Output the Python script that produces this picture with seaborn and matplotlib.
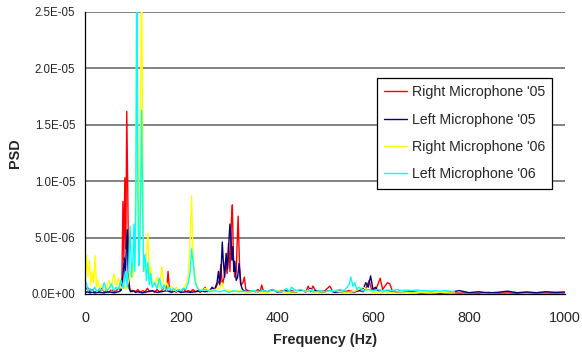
import numpy as np
import pandas as pd
import seaborn as sns
import matplotlib.pyplot as plt
import matplotlib.ticker as ticker

# PSD values are in units of 1e-6
r05_freq = [0, 5, 10, 15, 20, 25, 30, 35, 40, 45, 50, 55, 60, 65, 70, 74, 77, 79, 81, 83,
            85, 87, 89, 91, 94, 98, 102, 106, 110, 115, 120, 125, 130, 135, 140, 145, 150,
            155, 160, 165, 170, 173, 176, 180, 185, 190, 195, 200, 205, 210, 215, 220, 225,
            230, 235, 240, 245, 250, 255, 260, 265, 270, 275, 280, 283, 286, 290, 293, 296,
            299, 302, 305, 307, 309, 312, 315, 319, 322, 325, 329, 332, 335, 340, 345, 350,
            355, 360, 365, 368, 372, 380, 390, 400, 410, 420, 430, 440, 450, 460, 465, 470,
            475, 480, 490, 500, 510, 515, 520, 530, 540, 550, 560, 570, 580, 585, 592, 597,
            603, 608, 615, 620, 625, 630, 635, 640, 650, 660, 670, 680, 690, 700, 720, 740,
            760, 780, 800, 820, 840, 860, 880, 900, 920, 940, 960, 980, 1000]
r05_psd = [0.3, 0.6, 0.2, 0.4, 0.15, 0.3, 0.2, 0.5, 0.2, 0.3, 0.15, 0.4, 0.2, 0.3, 0.5, 0.3,
           1.5, 8.2, 3.0, 10.3, 4.0, 16.2, 9.5, 1.2, 0.4, 0.2, 0.3, 0.2, 0.4, 0.15, 0.3, 0.2,
           0.5, 0.2, 0.3, 0.15, 0.4, 0.2, 0.3, 0.6, 0.3, 2.0, 0.4, 0.2, 0.3, 0.15, 0.3, 0.2,
           0.5, 0.2, 0.3, 0.2, 0.4, 0.2, 0.3, 0.15, 0.3, 0.6, 0.2, 0.3, 0.5, 0.3, 0.8, 1.2,
           2.6, 0.8, 1.5, 3.0, 1.8, 4.5, 2.0, 6.5, 7.9, 3.5, 1.5, 2.0, 6.9, 2.5, 0.8, 1.0,
           1.5, 0.4, 0.3, 0.2, 0.3, 0.2, 0.4, 0.2, 0.8, 0.2, 0.2, 0.3, 0.2, 0.3, 0.2, 0.3,
           0.2, 0.3, 0.2, 0.7, 0.2, 0.7, 0.3, 0.2, 0.3, 0.7, 0.3, 0.2, 0.3, 0.2, 0.3, 0.2,
           0.3, 0.2, 0.5, 1.2, 0.4, 0.3, 0.6, 1.4, 0.4, 0.7, 1.0, 0.9, 0.3, 0.2, 0.3, 0.15,
           0.2, 0.15, 0.1, 0.12, 0.08, 0.1, 0.08, 0.1, 0.07, 0.15, 0.08, 0.1, 0.07, 0.12,
           0.08, 0.1, 0.08, 0.1]

l05_freq = [0, 5, 10, 15, 20, 30, 40, 50, 60, 70, 75, 78, 80, 82, 84, 86, 88, 90, 92, 95,
            100, 105, 110, 120, 130, 140, 150, 160, 170, 180, 190, 200, 210, 220, 230, 240,
            250, 260, 265, 270, 275, 278, 281, 284, 286, 288, 291, 294, 297, 300, 302, 304,
            306, 308, 310, 312, 315, 318, 321, 324, 327, 330, 340, 350, 360, 370, 380, 390,
            400, 410, 420, 430, 440, 450, 460, 470, 475, 480, 490, 500, 510, 520, 530, 540,
            550, 560, 570, 580, 585, 590, 595, 600, 605, 610, 620, 630, 640, 650, 660, 680,
            700, 720, 740, 760, 780, 800, 820, 840, 860, 880, 900, 920, 940, 960, 980, 1000]
l05_psd = [0.1, 0.2, 0.1, 0.15, 0.1, 0.15, 0.1, 0.2, 0.1, 0.2, 0.3, 1.0, 2.2, 3.2, 1.5,
           4.0, 5.7, 2.0, 0.5, 0.2, 0.3, 0.15, 0.2, 0.1, 0.2, 0.3, 0.15, 0.2, 0.3, 0.15,
           0.3, 0.15, 0.2, 0.15, 0.2, 0.3, 0.2, 0.3, 0.6, 0.4, 1.0, 2.0, 0.8, 2.5, 4.6, 3.0,
           1.5, 3.6, 2.2, 4.8, 6.2, 5.0, 3.0, 4.2, 2.0, 2.9, 1.2, 1.5, 2.7, 1.0, 0.5, 0.3,
           0.2, 0.3, 0.2, 0.3, 0.2, 0.4, 0.2, 0.2, 0.3, 0.15, 0.2, 0.3, 0.2, 0.5, 0.2, 0.3,
           0.15, 0.2, 0.3, 0.15, 0.2, 0.15, 0.2, 0.15, 0.3, 0.5, 1.0, 0.6, 1.6, 0.4, 0.6,
           0.3, 0.2, 0.3, 0.2, 0.15, 0.2, 0.15, 0.12, 0.15, 0.1, 0.15, 0.3, 0.12, 0.2, 0.1,
           0.15, 0.25, 0.12, 0.18, 0.12, 0.2, 0.15, 0.18]

r06_freq = [0, 3, 6, 9, 12, 15, 18, 21, 24, 27, 30, 35, 40, 45, 50, 55, 60, 65, 70, 75, 80,
            85, 90, 95, 100, 104, 106, 108, 110, 112, 114, 116, 118, 120, 122, 125, 128, 131,
            134, 137, 140, 145, 150, 155, 160, 165, 170, 175, 180, 185, 190, 195, 200, 205,
            210, 215, 219, 222, 224, 226, 229, 232, 236, 240, 245, 250, 260, 270, 280, 285,
            290, 300, 310, 320, 330, 340, 350, 360, 380, 400, 420, 440, 460, 470, 480, 500,
            520, 540, 560, 580, 590, 600, 620, 640, 660, 680, 700, 720, 740, 760, 770]
r06_psd = [1.0, 3.5, 1.5, 3.0, 0.8, 2.0, 1.0, 3.4, 0.6, 1.2, 0.4, 0.8, 0.3, 0.6, 1.2, 0.4,
           1.8, 0.7, 1.4, 0.5, 0.8, 0.4, 1.0, 2.0, 1.5, 4.0, 12.0, 30.0, 14.0, 4.0, 6.0,
           18.0, 30.0, 15.0, 3.0, 2.0, 3.5, 5.4, 1.5, 2.4, 1.0, 0.8, 1.5, 0.6, 2.4, 0.5, 1.0,
           0.4, 0.7, 0.3, 0.6, 0.4, 0.3, 0.5, 0.8, 1.5, 4.8, 8.7, 5.0, 3.0, 1.8, 0.8, 0.5,
           0.4, 0.3, 0.5, 0.3, 0.4, 0.5, 1.0, 0.4, 0.3, 0.2, 0.3, 0.2, 0.15, 0.3, 0.2, 0.15,
           0.3, 0.15, 0.2, 0.25, 0.4, 0.15, 0.2, 0.3, 0.15, 0.2, 0.6, 0.3, 0.15, 0.2, 0.15,
           0.2, 0.1, 0.15, 0.1, 0.15, 0.1, 0.1]

l06_freq = [0, 3, 6, 10, 15, 20, 25, 30, 35, 40, 45, 50, 55, 60, 65, 70, 75, 80, 85, 88,
            91, 94, 97, 100, 102, 104, 106, 108, 110, 112, 114, 116, 118, 120, 122, 125,
            128, 131, 134, 137, 140, 145, 150, 155, 160, 165, 170, 175, 180, 185, 190, 195,
            200, 205, 210, 215, 219, 222, 224, 226, 229, 232, 236, 240, 250, 260, 270, 280,
            290, 300, 310, 320, 330, 340, 350, 360, 370, 380, 390, 400, 410, 420, 425, 430,
            440, 450, 460, 470, 480, 490, 500, 510, 520, 530, 540, 550, 554, 558, 562, 566,
            570, 580, 590, 600, 610, 620, 630, 640, 650, 660, 670, 680, 690, 700, 710, 720,
            730, 740, 750, 760, 770]
l06_psd = [0.8, 1.0, 0.3, 0.5, 0.2, 0.6, 0.2, 0.5, 0.3, 1.0, 0.3, 0.5, 0.9, 0.3, 0.6, 0.4,
           1.2, 0.5, 2.0, 0.6, 2.5, 6.0, 1.5, 3.0, 6.2, 2.0, 8.0, 30.0, 10.0, 2.5, 4.0, 9.0,
           16.3, 8.0, 2.0, 3.5, 1.2, 2.8, 0.8, 1.8, 0.6, 1.0, 0.5, 1.4, 0.4, 0.8, 0.3, 0.6,
           0.3, 0.5, 0.2, 0.4, 0.3, 0.5, 0.4, 1.0, 2.0, 4.0, 3.2, 2.5, 1.2, 0.7, 0.4, 0.3,
           0.4, 0.2, 0.3, 0.2, 0.3, 0.15, 0.3, 0.2, 0.25, 0.2, 0.3, 0.2, 0.3, 0.2, 0.4, 0.25,
           0.2, 0.5, 0.2, 0.6, 0.3, 0.4, 0.2, 0.3, 0.2, 0.3, 0.2, 0.3, 0.25, 0.4, 0.3, 0.8,
           1.5, 0.7, 1.0, 0.4, 0.6, 0.3, 0.4, 0.3, 0.4, 0.3, 0.35, 0.3, 0.4, 0.3, 0.35, 0.3,
           0.35, 0.3, 0.3, 0.25, 0.3, 0.25, 0.3, 0.25, 0.2]

series_names = ["Right Microphone '05", "Left Microphone '05",
                "Right Microphone '06", "Left Microphone '06"]
series_colors = ['#FF0000', '#000080', '#FFFF00', '#00FFFF']
x_ticks = [0, 200, 400, 600, 800, 1000]
y_ticks = [0, 5e-6, 1e-5, 1.5e-5, 2e-5, 2.5e-5]

frames = []
for name, f, v in zip(series_names, [r05_freq, l05_freq, r06_freq, l06_freq],
                      [r05_psd, l05_psd, r06_psd, l06_psd]):
    frames.append(pd.DataFrame({'freq': f, 'PSD': np.array(v) * 1e-6, 'series': name}))
df = pd.concat(frames, ignore_index=True)

sns.set_theme(style='white')
plt.rcParams['font.family'] = ['Liberation Sans', 'DejaVu Sans']

fig = plt.figure(figsize=(5.82, 3.52), dpi=100)
ax = fig.add_axes([85 / 582, 1 - 294 / 352, 480 / 582, 282 / 352])

sns.lineplot(data=df, x='freq', y='PSD', hue='series', hue_order=series_names,
             palette=series_colors, estimator=None, sort=False, lw=1.0, ax=ax)

ax.set_xlim(0, 1000)
ax.set_ylim(0, 2.5e-5)
ax.set_xticks(x_ticks)
ax.set_yticks(y_ticks)
ax.yaxis.set_major_formatter(ticker.FuncFormatter(lambda v, p: '{:.1E}'.format(v)))
for y in y_ticks[1:]:
    ax.axhline(y, color='#606060', lw=1.1, zorder=0)

ax.spines['top'].set_visible(False)
ax.spines['right'].set_visible(False)
for s in ['left', 'bottom']:
    ax.spines[s].set_color('black')
    ax.spines[s].set_linewidth(0.9)
ax.tick_params(axis='both', direction='out', length=4, width=0.9, color='black')
ax.tick_params(axis='y', labelsize=8.3, pad=3)
ax.tick_params(axis='x', labelsize=10.4, pad=8)

ax.set_xlabel('Frequency (Hz)', fontsize=10.4, fontweight='bold', labelpad=6)
ax.set_ylabel('PSD', fontsize=10.4, fontweight='bold', labelpad=7)

leg = ax.legend(loc='upper right', bbox_to_anchor=(0.973, 0.766), borderaxespad=0,
                fontsize=10.2, frameon=True, fancybox=False, handlelength=1.6,
                handletextpad=0.35, labelspacing=0.95, borderpad=0.5)
leg.get_frame().set_edgecolor('black')
leg.get_frame().set_linewidth(0.9)
leg.get_frame().set_alpha(1)
for line in leg.get_lines():
    line.set_linewidth(1.0)

fig.savefig('out.png', dpi=100)
